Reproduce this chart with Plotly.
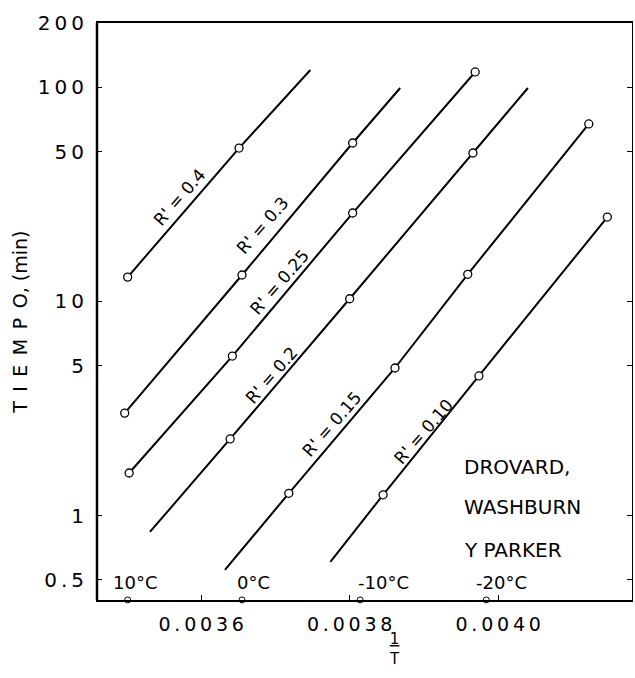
import math
import plotly.graph_objects as go

# ---- data (x = 1/T, y = tiempo in min) ----
R_LABELS = ["R' = 0.4", "R' = 0.3", "R' = 0.25", "R' = 0.2", "R' = 0.15", "R' = 0.10"]

X_R04 = [0.003501, 0.003651, 0.003747]
Y_R04 = [13.0, 52.1, 120.6]
M_R04 = [True, True, False]

X_R03 = [0.003497, 0.003655, 0.003804, 0.003868]
Y_R03 = [3.01, 13.3, 55.0, 99.4]
M_R03 = [True, True, True, False]

X_R025 = [0.003503, 0.003642, 0.003804, 0.003969]
Y_R025 = [1.58, 5.56, 25.9, 118.1]
M_R025 = [True, True, True, True]

X_R02 = [0.003531, 0.003639, 0.003800, 0.003966, 0.004040]
Y_R02 = [0.838, 2.28, 10.3, 49.4, 99.4]
M_R02 = [False, True, True, True, False]

X_R015 = [0.003632, 0.003718, 0.003861, 0.003959, 0.004122]
Y_R015 = [0.557, 1.27, 4.89, 13.4, 67.5]
M_R015 = [False, True, True, True, True]

X_R010 = [0.003774, 0.003845, 0.003974, 0.004147]
Y_R010 = [0.607, 1.25, 4.49, 24.8]
M_R010 = [False, True, True, True]

# temperature reference points on the bottom axis
TEMP_LABELS = ["10°C", "0°C", "-10°C", "-20°C"]
TEMP_X = [0.003501, 0.003655, 0.003814, 0.003984]
TEMP_Y = [0.4035, 0.4035, 0.4035, 0.4035]

# label anchor points (x, y) for the R' labels
LABEL_X = [0.003571, 0.003683, 0.003706, 0.003695, 0.003776, 0.003899]
LABEL_Y = [30.8, 22.8, 12.3, 4.54, 2.68, 2.46]

X_TICKS = [0.0036, 0.0038, 0.0040]
X_TICKTEXT = ["0.0036", "0.0038", "0.0040"]
Y_TICKS = [0.5, 1, 5, 10, 50, 100, 200]
Y_TICKTEXT = ["0.5", "1", "5", "10", "50", "100", "200"]

SERIES = [
    (X_R04, Y_R04, M_R04),
    (X_R03, Y_R03, M_R03),
    (X_R025, Y_R025, M_R025),
    (X_R02, Y_R02, M_R02),
    (X_R015, Y_R015, M_R015),
    (X_R010, Y_R010, M_R010),
]

THIN = "\u2009"
EN = "\u2002"
FONT = "DejaVu Sans"


def spaced(s, sep=THIN):
    return sep.join(list(s))


fig = go.Figure()

for name, (xs, ys, ms) in zip(R_LABELS, SERIES):
    fig.add_trace(go.Scatter(
        x=xs, y=ys, mode="lines", name=name,
        line=dict(color="black", width=2), showlegend=False,
        hoverinfo="skip"))
    mx = [x for x, m in zip(xs, ms) if m]
    my = [y for y, m in zip(ys, ms) if m]
    fig.add_trace(go.Scatter(
        x=mx, y=my, mode="markers", name=name,
        marker=dict(symbol="circle", size=8, color="white",
                    line=dict(color="black", width=1.3)),
        showlegend=False, cliponaxis=False))

fig.add_trace(go.Scatter(
    x=TEMP_X, y=TEMP_Y, mode="markers",
    marker=dict(symbol="circle", size=6, color="white",
                line=dict(color="black", width=1)),
    showlegend=False, cliponaxis=False))

# R' labels along the lines (annotation y on a log axis is given in log10 units)
for lab, lx, ly in zip(R_LABELS, LABEL_X, LABEL_Y):
    fig.add_annotation(x=lx, y=math.log10(ly), xref="x", yref="y", text=lab,
                       textangle=-49, showarrow=False,
                       xanchor="center", yanchor="middle",
                       font=dict(family=FONT, size=17, color="black"))

# temperature labels
TEMP_LABEL_PX = [0.071, 0.293, 0.536, 0.757]
for lab, px in zip(TEMP_LABELS, TEMP_LABEL_PX):
    fig.add_annotation(x=px, y=0.0295, xref="paper", yref="paper",
                       text=lab, showarrow=False,
                       xanchor="center", yanchor="middle",
                       font=dict(family=FONT, size=18, color="black"))

# source note
for txt, py in [("DROVARD,", 0.2305), ("WASHBURN", 0.161), ("Y PARKER", 0.0867)]:
    fig.add_annotation(x=0.682, y=py, xref="paper", yref="paper", text=txt,
                       xanchor="left", yanchor="middle", showarrow=False,
                       font=dict(family=FONT, size=20, color="black"))

# axis titles
fig.add_annotation(x=-0.144, y=0.482, xref="paper", yref="paper",
                   text=spaced("TIEMPO", EN) + ", (min)", textangle=-90,
                   xanchor="center", yanchor="middle", showarrow=False,
                   font=dict(family=FONT, size=19, color="black"))
fig.add_annotation(x=0.557, y=-0.085, xref="paper", yref="paper",
                   text="<u>1</u><br>T", showarrow=False,
                   xanchor="center", yanchor="middle",
                   font=dict(family=FONT, size=15, color="black"))

# thick left axis line
fig.add_shape(type="line", xref="paper", yref="paper", x0=0, x1=0, y0=0, y1=1,
              line=dict(color="black", width=2.5))

fig.update_xaxes(
    range=[0.0034597, 0.0041802],
    tickvals=X_TICKS, ticktext=[spaced(t) for t in X_TICKTEXT],
    ticks="inside", ticklen=5, tickcolor="black", ticklabelstandoff=6,
    showline=True, linecolor="black", linewidth=1.5, mirror=True,
    showgrid=False, zeroline=False,
    tickfont=dict(family=FONT, size=19, color="black"))
fig.update_yaxes(
    type="log", range=[-0.3946, 2.30103],
    tickvals=Y_TICKS, ticktext=[spaced(t) for t in Y_TICKTEXT],
    ticks="inside", ticklen=5, tickcolor="black", ticklabelstandoff=8,
    showline=True, linecolor="black", linewidth=1, mirror="ticks",
    showgrid=False, zeroline=False,
    tickfont=dict(family=FONT, size=20, color="black"))

fig.update_layout(
    width=635, height=678,
    margin=dict(l=97, r=3, t=23, b=78),
    paper_bgcolor="white", plot_bgcolor="white",
    showlegend=False)

fig.write_html("out.html",
               config={"displayModeBar": False},
               post_script="document.body.style.margin='0px';")
